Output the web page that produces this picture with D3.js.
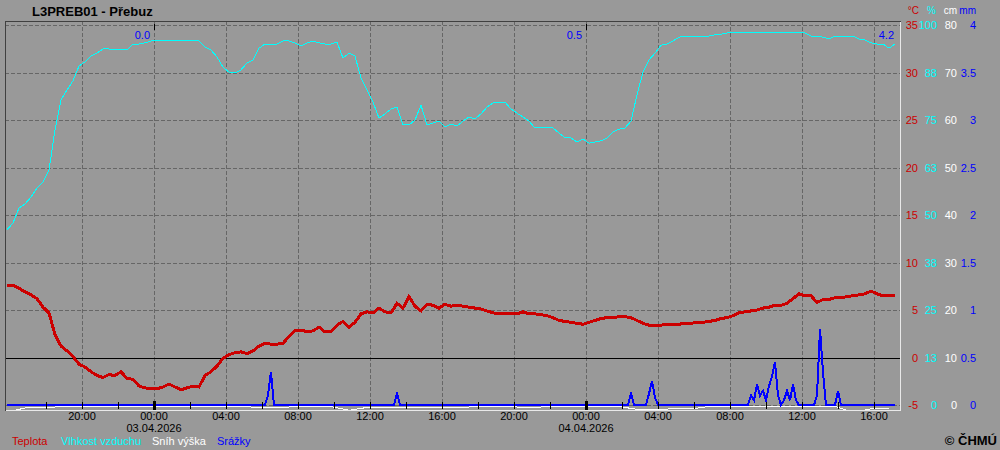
<!DOCTYPE html>
<html>
<head>
<meta charset="utf-8">
<script src="https://cdn.jsdelivr.net/npm/d3@7"></script>
<style>
  html, body { margin: 0; padding: 0; background: #999999; }
  svg { display: block; font-family: "Liberation Sans", Arial, sans-serif; }
</style>
</head>
<body>
<div id="chart"></div>
<script>
// Station and sampling of the series
var stationName = "L3PREB01 - Přebuz";
var seriesStart = "2026-04-02 15:50";
var stepMinutes = 20;

// Teplota (°C), one value every 20 minutes
var temperature = [
  7.6, 7.6, 7.3, 6.9, 6.6, 6.2, 5.3, 4.7, 2.4, 1.2, 0.7, 0.1, -0.7, -1.0, -1.5, -1.9,
  -2.1, -1.8, -1.9, -1.5, -2.2, -2.3, -3.0, -3.2, -3.3, -3.3, -3.1, -2.8, -3.1, -3.4, -3.2, -3.0,
  -3.1, -1.9, -1.5, -0.9, -0.1, 0.3, 0.5, 0.6, 0.4, 0.7, 1.2, 1.5, 1.4, 1.4, 1.5, 2.2,
  2.8, 2.9, 2.7, 2.8, 3.2, 2.7, 2.7, 3.4, 3.8, 3.2, 3.7, 4.6, 4.8, 4.7, 5.2, 4.8,
  4.7, 5.7, 5.2, 6.4, 5.4, 4.9, 5.6, 5.5, 5.2, 5.6, 5.4, 5.5, 5.4, 5.3, 5.2, 5.1,
  4.9, 4.7, 4.6, 4.6, 4.6, 4.6, 4.8, 4.6, 4.6, 4.5, 4.4, 4.2, 3.9, 3.8, 3.7, 3.6,
  3.5, 3.7, 3.9, 4.1, 4.2, 4.2, 4.3, 4.3, 4.2, 3.9, 3.6, 3.4, 3.4, 3.4, 3.5, 3.5,
  3.5, 3.6, 3.6, 3.7, 3.7, 3.8, 3.9, 4.1, 4.2, 4.4, 4.7, 4.8, 4.9, 5.0, 5.2, 5.3,
  5.5, 5.5, 5.7, 6.2, 6.7, 6.5, 6.5, 5.8, 6.1, 6.1, 6.3, 6.3, 6.4, 6.5, 6.6, 6.7,
  7.0, 6.7, 6.5, 6.5, 6.5
];

// Vlhkost vzduchu (%), same times
var humidity = [
  46.1, 47.9, 51.8, 52.9, 54.7, 57.1, 58.7, 61.8, 72.4, 80.3, 82.9, 85.3, 89.2, 90.3, 91.8, 92.6,
  93.7, 93.7, 93.4, 93.7, 93.4, 95.0, 95.0, 95.3, 95.8, 95.8, 95.8, 95.8, 95.8, 95.8, 95.8, 95.8,
  95.8, 94.2, 93.4, 91.6, 88.9, 87.6, 87.4, 88.2, 90.0, 90.8, 93.9, 95.0, 95.0, 95.0, 95.8, 95.8,
  95.3, 94.5, 95.3, 95.8, 95.3, 95.0, 95.0, 95.5, 91.3, 92.6, 91.8, 86.1, 82.9, 79.7, 75.5, 76.6,
  77.9, 78.4, 73.7, 73.7, 75.0, 78.9, 73.7, 74.2, 74.7, 73.2, 73.9, 73.4, 74.7, 75.8, 75.3, 76.6,
  78.4, 79.5, 79.7, 79.7, 77.9, 76.8, 75.8, 74.7, 72.9, 72.9, 72.9, 72.9, 71.6, 70.3, 70.3, 69.2,
  70.0, 68.9, 69.2, 69.5, 70.3, 71.8, 72.6, 72.9, 74.7, 81.6, 87.6, 90.8, 92.6, 94.7, 95.0, 95.8,
  96.8, 97.1, 97.1, 97.1, 97.1, 97.1, 97.4, 97.6, 97.9, 97.9, 97.9, 97.9, 97.9, 97.9, 97.9, 97.9,
  97.9, 97.9, 97.9, 97.9, 97.9, 97.9, 97.1, 97.1, 96.8, 96.3, 97.1, 97.1, 97.1, 97.1, 96.3, 96.1,
  95.3, 95.0, 95.0, 93.9, 95.0
];

// Sníh výška (cm), one value per hour
var snowStepMinutes = 60;
var snowDepth = [
  -1.2, -0.3, -0.3, 0, 0, 0, 0, 0, 0, 0, 0, 0, 0, 0, -0.2, -0.3,
  0, 0, 0, -0.8, -0.2, -0.3, -0.2, -0.3, -0.2, -0.3, 0, 0, 0, -0.3, 0, 0,
  0, 0, 0, -0.6, -0.6, -0.5, -0.5, 0, 0, 0, 0, 0, 0, 0, 0, -1.2,
  -0.5, -0.5
];

// Srážky (mm per 10 min); every other 10-minute step is 0
var precipStepMinutes = 10;
var precipEnd = "2026-04-04 17:10";
var precipTimes = [
  "2026-04-03 06:20", "2026-04-03 06:30", "2026-04-03 13:30",
  "2026-04-04 02:30", "2026-04-04 03:30", "2026-04-04 03:40", "2026-04-04 03:50",
  "2026-04-04 09:10", "2026-04-04 09:20", "2026-04-04 09:30", "2026-04-04 09:40", "2026-04-04 09:50",
  "2026-04-04 10:00", "2026-04-04 10:10", "2026-04-04 10:20", "2026-04-04 10:30", "2026-04-04 10:40",
  "2026-04-04 11:00", "2026-04-04 11:10", "2026-04-04 11:20", "2026-04-04 11:30", "2026-04-04 11:40",
  "2026-04-04 12:50", "2026-04-04 13:00", "2026-04-04 13:10", "2026-04-04 14:00"
];
var precipValues = [
  0.1, 0.35, 0.12,
  0.12, 0.12, 0.25, 0.08,
  0.1, 0.05, 0.22, 0.1, 0.15,
  0.05, 0.2, 0.3, 0.45, 0.1,
  0.05, 0.15, 0.05, 0.22, 0.05,
  0.1, 0.8, 0.35, 0.15
];

// Daily precipitation totals written near the top
var dayTotalTimes = ["2026-04-03 00:00", "2026-04-04 00:00", "2026-04-04 17:20"];
var dayTotalLabels = ["0.0", "0.5", "4.2"];

// Right-hand scales, one row per gridline
var tempTicks = [-5, 0, 5, 10, 15, 20, 25, 30, 35];
var humTicks = [0, 12.5, 25, 37.5, 50, 62.5, 75, 87.5, 100];
var humLabels = ["0", "13", "25", "38", "50", "63", "75", "88", "100"];
var snowTicks = [0, 10, 20, 30, 40, 50, 60, 70, 80];
var precipTicks = [0, 0.5, 1, 1.5, 2, 2.5, 3, 3.5, 4];

var legendNames = ["Teplota", "Vlhkost vzduchu", "Sníh výška", "Srážky"];
var colors = { temp: "#cc0000", hum: "#00ffff", snow: "#ffffff", precip: "#0000ff" };

// frame of the plot area
var W = 1000, H = 450;
var box = { left: 5, top: 21, right: 900, bottom: 410 };

var parse = d3.timeParse("%Y-%m-%d %H:%M");
var t0 = parse(seriesStart);

var x = d3.scaleTime()
    .domain([parse("2026-04-03 00:00"), parse("2026-04-04 00:00")])
    .range([154, 586]);
var yT = d3.scaleLinear().domain([-5, 35]).range([405, 25]);
var yH = d3.scaleLinear().domain([0, 100]).range([405, 25]);
var yS = d3.scaleLinear().domain([0, 80]).range([405, 25]);
var yP = d3.scaleLinear().domain([0, 4]).range([405, 25]);

function timesFrom(start, step, n) {
  var out = [];
  for (var i = 0; i < n; i++) out.push(d3.timeMinute.offset(start, i * step));
  return out;
}

var mainTimes = timesFrom(t0, stepMinutes, temperature.length);
var tempData = temperature.map(function(v, i) { return { t: mainTimes[i], v: v }; });
var humData = humidity.map(function(v, i) { return { t: mainTimes[i], v: v }; });
var snowTimes = timesFrom(t0, snowStepMinutes, snowDepth.length);
var snowData = snowDepth.map(function(v, i) { return { t: snowTimes[i], v: v }; });

var precipLookup = {};
precipTimes.forEach(function(s, i) { precipLookup[+parse(s)] = precipValues[i]; });
var precipData = [];
for (var t = t0; t <= parse(precipEnd); t = d3.timeMinute.offset(t, precipStepMinutes)) {
  precipData.push({ t: t, v: precipLookup[+t] || 0 });
}

var svg = d3.select("#chart").append("svg")
    .attr("width", W)
    .attr("height", H);

svg.append("rect")
    .attr("width", W)
    .attr("height", H)
    .attr("fill", "#999999");

// Title
svg.append("text")
    .attr("x", 32)
    .attr("y", 16)
    .style("font-size", "13px")
    .style("font-weight", "bold")
    .attr("fill", "#000")
    .text(stationName);

// Grid
var grid = svg.append("g").attr("shape-rendering", "crispEdges");

grid.selectAll("line.h")
    .data(tempTicks.filter(function(d) { return d !== 0; }))
    .enter().append("line")
    .attr("x1", box.left).attr("x2", box.right)
    .attr("y1", function(d) { return Math.round(yT(d)) + 0.5; })
    .attr("y2", function(d) { return Math.round(yT(d)) + 0.5; })
    .attr("stroke", "#666")
    .attr("stroke-dasharray", "4,2");

// hours far enough from the left edge to get a line / label
var tLeft = x.invert(box.left + 20), tRight = x.invert(box.right);
var hours4 = d3.timeHour.every(4).range(tLeft, tRight);
var hours2 = d3.timeHour.every(2).range(tLeft, tRight);
var midnights = d3.timeDay.range(tLeft, tRight);

grid.selectAll("line.v")
    .data(hours4)
    .enter().append("line")
    .attr("x1", function(d) { return Math.round(x(d)) + 0.5; })
    .attr("x2", function(d) { return Math.round(x(d)) + 0.5; })
    .attr("y1", box.top).attr("y2", box.bottom)
    .attr("stroke", "#666")
    .attr("stroke-dasharray", "4,2");

// 0 °C line
grid.append("line")
    .attr("x1", box.left).attr("x2", box.right)
    .attr("y1", Math.round(yT(0)) + 0.5).attr("y2", Math.round(yT(0)) + 0.5)
    .attr("stroke", "#000");

// Data lines, clipped to the frame
svg.append("clipPath").attr("id", "plotclip")
  .append("rect")
    .attr("x", box.left + 1).attr("y", box.top + 1)
    .attr("width", box.right - box.left - 1)
    .attr("height", box.bottom - box.top - 1);

var plot = svg.append("g").attr("clip-path", "url(#plotclip)");

function lineFor(scale) {
  return d3.line()
      .x(function(d) { return x(d.t); })
      .y(function(d) { return scale(d.v); });
}

plot.append("path")
    .datum(humData)
    .attr("d", lineFor(yH))
    .attr("fill", "none")
    .attr("stroke", colors.hum)
    .attr("stroke-width", 1)
    .attr("shape-rendering", "crispEdges");

plot.append("path")
    .datum(tempData)
    .attr("d", lineFor(yT))
    .attr("fill", "none")
    .attr("stroke", colors.temp)
    .attr("stroke-width", 3)
    .attr("stroke-linejoin", "miter")
    .attr("shape-rendering", "crispEdges");

plot.append("path")
    .datum(snowData)
    .attr("d", lineFor(function(v) { return yS(v) + 1.5; }))
    .attr("fill", "none")
    .attr("stroke", colors.snow)
    .attr("stroke-width", 1)
    .attr("shape-rendering", "crispEdges");

plot.append("path")
    .datum(precipData)
    .attr("d", lineFor(yP))
    .attr("fill", "none")
    .attr("stroke", colors.precip)
    .attr("stroke-width", 2)
    .attr("shape-rendering", "crispEdges");

// Daily totals
svg.selectAll("text.total")
    .data(dayTotalLabels)
    .enter().append("text")
    .attr("x", function(d, i) { return x(parse(dayTotalTimes[i])) - 4; })
    .attr("y", 39)
    .attr("text-anchor", "end")
    .style("font-size", "11px")
    .attr("fill", colors.precip)
    .text(function(d) { return d; });

// Time ticks on the bottom line, heavier at midnight
var ticks = svg.append("g").attr("shape-rendering", "crispEdges");
ticks.selectAll("line.minor")
    .data(hours2)
    .enter().append("line")
    .attr("x1", function(d) { return Math.round(x(d)) + 0.5; })
    .attr("x2", function(d) { return Math.round(x(d)) + 0.5; })
    .attr("y1", 402).attr("y2", 409)
    .attr("stroke", "#000");
ticks.selectAll("rect.day")
    .data(midnights)
    .enter().append("rect")
    .attr("x", function(d) { return Math.round(x(d)) - 1; })
    .attr("y", 401)
    .attr("width", 3).attr("height", 9)
    .attr("fill", "#000");
ticks.selectAll("line.top")
    .data(midnights)
    .enter().append("line")
    .attr("x1", function(d) { return Math.round(x(d)) + 0.5; })
    .attr("x2", function(d) { return Math.round(x(d)) + 0.5; })
    .attr("y1", 24).attr("y2", 30)
    .attr("stroke", "#000");

// Frame: dark top/left, light bottom/right
var frame = svg.append("g").attr("shape-rendering", "crispEdges");
frame.append("line").attr("x1", box.left + 0.5).attr("x2", box.left + 0.5)
    .attr("y1", box.top).attr("y2", box.bottom + 1).attr("stroke", "#404040");
frame.append("line").attr("x1", box.left).attr("x2", box.right + 1)
    .attr("y1", box.top + 0.5).attr("y2", box.top + 0.5).attr("stroke", "#404040");
frame.append("line").attr("x1", box.right + 0.5).attr("x2", box.right + 0.5)
    .attr("y1", box.top + 1).attr("y2", box.bottom + 1).attr("stroke", "#e8e8e8");
frame.append("line").attr("x1", box.left + 1).attr("x2", box.right + 1)
    .attr("y1", box.bottom + 0.5).attr("y2", box.bottom + 0.5).attr("stroke", "#e8e8e8");

// Time labels
var fmtHour = d3.timeFormat("%H:%M");
var fmtDate = d3.timeFormat("%d.%m.%Y");
svg.selectAll("text.hour")
    .data(hours4)
    .enter().append("text")
    .attr("x", function(d) { return x(d); })
    .attr("y", 420)
    .attr("text-anchor", "middle")
    .style("font-size", "11px")
    .attr("fill", "#000")
    .text(fmtHour);
svg.selectAll("text.date")
    .data(midnights)
    .enter().append("text")
    .attr("x", function(d) { return x(d); })
    .attr("y", 432)
    .attr("text-anchor", "middle")
    .style("font-size", "11px")
    .attr("fill", "#000")
    .text(fmtDate);

// Right-hand value columns
function column(scale, values, fmt, right, color, unit, unitRight) {
  var g = svg.append("g")
      .attr("transform", "translate(" + right + ",0)")
      .call(d3.axisRight(scale).tickValues(values).tickSize(0).tickPadding(0).tickFormat(fmt));
  g.select(".domain").remove();
  g.selectAll("text")
      .attr("text-anchor", "end")
      .attr("fill", color)
      .style("font-size", "11px")
      .style("font-family", "'Liberation Sans', Arial, sans-serif");
  svg.append("text")
      .attr("x", unitRight)
      .attr("y", 14)
      .attr("text-anchor", "end")
      .style("font-size", "10px")
      .attr("fill", color)
      .text(unit);
}
column(yT, tempTicks, function(d) { return d; }, 918, colors.temp, "°C", 919);
column(yH, humTicks, function(d, i) { return humLabels[i]; }, 937, colors.hum, "%", 936);
column(yS, snowTicks, function(d) { return d; }, 957, colors.snow, "cm", 957);
column(yP, precipTicks, function(d) { return d; }, 976, colors.precip, "mm", 976);

// Legend
var legendX = [12, 61, 152, 217];
var legendColors = [colors.temp, colors.hum, colors.snow, colors.precip];
svg.selectAll("text.legend")
    .data(legendNames)
    .enter().append("text")
    .attr("x", function(d, i) { return legendX[i]; })
    .attr("y", 445)
    .style("font-size", "11px")
    .attr("fill", function(d, i) { return legendColors[i]; })
    .text(function(d) { return d; });

svg.append("text")
    .attr("x", 997)
    .attr("y", 445)
    .attr("text-anchor", "end")
    .style("font-size", "13px")
    .style("font-weight", "bold")
    .attr("fill", "#000")
    .text("© ČHMÚ");
</script>
</body>
</html>
